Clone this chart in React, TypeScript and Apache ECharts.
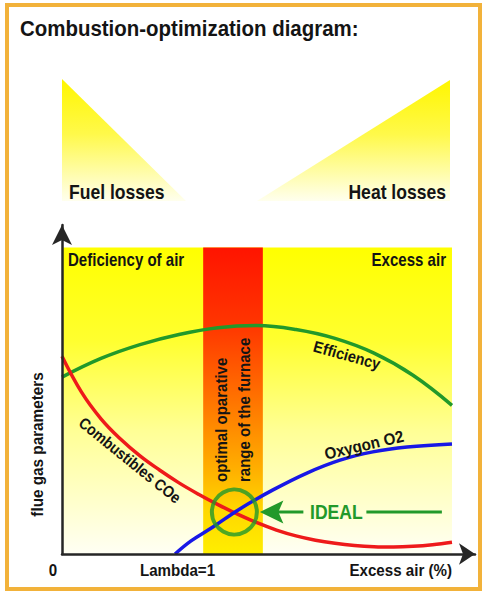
import React, { useEffect, useRef } from 'react';
import * as echarts from 'echarts';

// ---- data (axis units: x 0..100 = yellow field width, y 0..100 = field height) ----
const efficiencyX = [0, 10, 20, 30, 40, 50, 60, 70, 80, 90, 100];
const efficiencyY = [57.7, 63.8, 68.3, 71.6, 73.8, 74.5, 73.2, 70.3, 65.5, 58.3, 48.5];

const combustiblesX = [0, 5, 10, 15, 20, 25, 30, 35, 40, 45, 50, 55, 60, 65, 70, 75, 80, 85, 90, 95, 100];
const combustiblesY = [64.5, 52.8, 44.1, 37.5, 32.0, 27.4, 23.2, 19.5, 16.1, 13.0, 10.2, 7.8, 5.9, 4.5, 3.5, 2.8, 2.4, 2.3, 2.5, 3.0, 3.8];

const oxygenX = [29, 33, 38.7, 45.6, 54.1, 62.8, 71.3, 79.7, 88.5, 100];
const oxygenY = [0, 4.2, 8.8, 14.7, 20.9, 26.4, 30.6, 33.3, 34.9, 35.9];

const fieldRange = [0, 100];
const optimalRange = [36.2, 51.5];
const idealPoint = [44.2, 13.7];

const axisMax = [105.9, 107.3];

const xTickLabels = ['0', 'Lambda=1', 'Excess air (%)'];
const yAxisTitle = 'flue gas parameters';
const curveLabels = ['Efficiency', 'Combustibles COe', 'Oxygon O2'];
const zoneLabels = ['Deficiency of air', 'Excess air'];
const lossLabels = ['Fuel losses', 'Heat losses'];
const bandLabels = ['optimal oparative', 'range of the furnace'];
const titleText = 'Combustion-optimization diagram:';
const idealText = 'IDEAL';

const GREEN = '#22992A';
const RED = '#EE1A1A';
const BLUE = '#1818E6';
const INK = '#141414';
const FONT = '"Liberation Sans", Arial, sans-serif';

const zip = (xs: number[], ys: number[]) => xs.map((x, i) => [x, ys[i]]);

function txt(
  text: string,
  x: number,
  y: number,
  size: number,
  opts: { align?: string; rotation?: number; scaleX?: number; fill?: string; weight?: string } = {}
) {
  return {
    type: 'text',
    x,
    y,
    rotation: opts.rotation || 0,
    scaleX: opts.scaleX ?? 0.9,
    z: 100,
    silent: true,
    style: {
      text,
      fill: opts.fill || INK,
      fontSize: size,
      fontWeight: opts.weight || 'bold',
      fontFamily: FONT,
      align: opts.align || 'center',
      verticalAlign: 'middle',
    },
  };
}

export default function App() {
  const ref = useRef<HTMLDivElement>(null);

  useEffect(() => {
    const chart = echarts.init(ref.current!, null, { renderer: 'svg' });

    const fieldGrad = new echarts.graphic.LinearGradient(0, 0, 0, 1, [
      { offset: 0, color: '#FFFF00' },
      { offset: 0.3, color: '#FFFF2E' },
      { offset: 0.6, color: '#FFFF96' },
      { offset: 1, color: '#FFFFF4' },
    ]);
    const bandGrad = new echarts.graphic.LinearGradient(0, 0, 0, 1, [
      { offset: 0, color: '#FF1400' },
      { offset: 0.25, color: '#FF3500' },
      { offset: 0.5, color: '#FF7400' },
      { offset: 0.72, color: '#FFAE00' },
      { offset: 0.86, color: '#FFD800' },
      { offset: 1, color: '#FFEE00' },
    ]);

    const axisLine = (size: number[]) => ({
      show: true,
      onZero: false,
      symbol: ['none', 'arrow'],
      symbolSize: size,
      lineStyle: { color: '#262626', width: 2.5 },
    });

    chart.setOption({
      animation: false,
      grid: { left: 62, right: 8, top: 225, bottom: 38, containLabel: false, outerBoundsMode: 'none' },
      xAxis: {
        type: 'value',
        min: 0,
        max: axisMax[0],
        z: 5,
        axisLine: axisLine([16, 16]),
        axisTick: { show: false },
        axisLabel: { show: false },
        splitLine: { show: false },
      },
      yAxis: {
        type: 'value',
        min: 0,
        max: axisMax[1],
        z: 5,
        axisLine: axisLine([15, 20]),
        axisTick: { show: false },
        axisLabel: { show: false },
        splitLine: { show: false },
      },
      series: [
        {
          name: curveLabels[0],
          type: 'line',
          z: 3,
          smooth: 0.4,
          symbol: 'none',
          silent: true,
          lineStyle: { color: GREEN, width: 3.5 },
          data: zip(efficiencyX, efficiencyY),
          markArea: {
            silent: true,
            z: 1,
            label: { show: false },
            data: [
              [
                { coord: [fieldRange[0], fieldRange[0]], itemStyle: { color: fieldGrad, opacity: 1 } },
                { coord: [fieldRange[1], fieldRange[1]] },
              ],
              [
                { coord: [optimalRange[0], fieldRange[0]], itemStyle: { color: bandGrad, opacity: 1 } },
                { coord: [optimalRange[1], fieldRange[1]] },
              ],
            ],
          },
        },
        {
          name: curveLabels[1],
          type: 'line',
          z: 3,
          smooth: 0.4,
          symbol: 'none',
          silent: true,
          lineStyle: { color: RED, width: 3.5 },
          data: zip(combustiblesX, combustiblesY),
        },
        {
          name: curveLabels[2],
          type: 'line',
          z: 3,
          smooth: 0.4,
          symbol: 'none',
          silent: true,
          lineStyle: { color: BLUE, width: 3.5 },
          data: zip(oxygenX, oxygenY),
        },
        {
          name: idealText,
          type: 'scatter',
          z: 4,
          silent: true,
          symbol: 'circle',
          symbolSize: 45,
          itemStyle: { color: 'rgba(0,0,0,0)', borderColor: GREEN, borderWidth: 4 },
          data: [idealPoint],
        },
      ],
    });

    const [cx, cy] = chart.convertToPixel({ gridIndex: 0 }, idealPoint) as number[];

    const triGrad = () =>
      new echarts.graphic.LinearGradient(0, 0, 0, 1, [
        { offset: 0, color: '#FFF600' },
        { offset: 0.45, color: '#FFF94A' },
        { offset: 1, color: '#FFFFEE' },
      ]);

    chart.setOption({
      graphic: {
        elements: [
          {
            type: 'rect',
            z: -10,
            silent: true,
            shape: { x: 7, y: 5, width: 473, height: 584 },
            style: { fill: 'rgba(255,255,255,0)', stroke: '#F2B23A', lineWidth: 4 },
          },
          {
            type: 'polygon',
            z: 0,
            silent: true,
            shape: { points: [[62, 79], [62, 201], [186, 201]] },
            style: { fill: triGrad() },
          },
          {
            type: 'polygon',
            z: 0,
            silent: true,
            shape: { points: [[450, 80], [450, 201], [257, 201]] },
            style: { fill: triGrad() },
          },
          txt(titleText, 20, 29, 22, { align: 'left', scaleX: 0.93 }),
          txt(lossLabels[0], 69, 192, 19.5, { align: 'left' }),
          txt(lossLabels[1], 446, 192, 19.5, { align: 'right' }),
          txt(zoneLabels[0], 68, 260, 17.5, { align: 'left', scaleX: 0.86 }),
          txt(zoneLabels[1], 446, 260, 17.5, { align: 'right', scaleX: 0.86 }),
          txt(xTickLabels[0], 53, 570, 17, { scaleX: 0.89 }),
          txt(xTickLabels[1], 177.5, 570, 17, { scaleX: 0.89 }),
          txt(xTickLabels[2], 452, 570, 17, { align: 'right', scaleX: 0.89 }),
          txt(yAxisTitle, 37, 444.5, 17, { rotation: Math.PI / 2, scaleX: 0.9 }),
          txt(bandLabels[0], 221, 482, 16.5, { align: 'left', rotation: Math.PI / 2, scaleX: 0.91 }),
          txt(bandLabels[1], 244.5, 482, 16.5, { align: 'left', rotation: Math.PI / 2, scaleX: 0.91 }),
          txt(curveLabels[0], 347, 355, 16, { rotation: -0.27, scaleX: 0.91 }),
          txt(curveLabels[1], 130, 460, 16, { rotation: -0.68, scaleX: 0.88 }),
          txt(curveLabels[2], 364, 445, 16.5, { rotation: 0.23, scaleX: 0.92 }),
          {
            type: 'polygon',
            z: 90,
            silent: true,
            shape: {
              points: [
                [cx + 25.5, cy],
                [cx + 49, cy - 11.5],
                [cx + 44, cy],
                [cx + 49, cy + 11.5],
              ],
            },
            style: { fill: GREEN },
          },
          {
            type: 'line',
            z: 90,
            silent: true,
            shape: { x1: cx + 43, y1: cy, x2: cx + 69, y2: cy },
            style: { stroke: GREEN, lineWidth: 3 },
          },
          {
            type: 'line',
            z: 90,
            silent: true,
            shape: { x1: cx + 132, y1: cy, x2: cx + 207.5, y2: cy },
            style: { stroke: GREEN, lineWidth: 3 },
          },
          txt(idealText, cx + 102, cy, 19.5, { fill: GREEN, scaleX: 0.9 }),
        ],
      },
    });

    return () => chart.dispose();
  }, []);

  return (
    <div
      ref={ref}
      style={{ position: 'absolute', left: 0, top: 0, width: 483, height: 592, background: '#ffffff' }}
    />
  );
}
